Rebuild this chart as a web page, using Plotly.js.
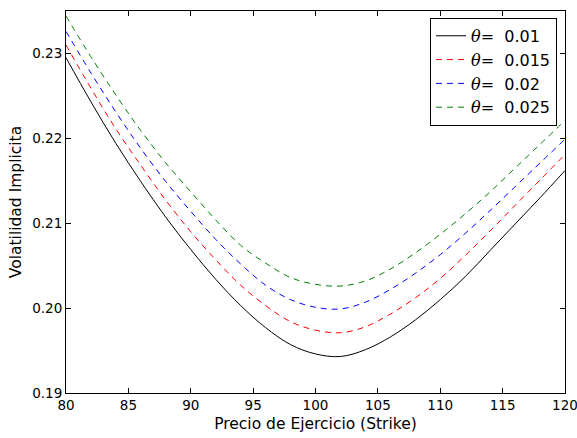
<!DOCTYPE html>
<html>
<head>
<meta charset="utf-8">
<script src="https://cdn.plot.ly/plotly-3.0.1.min.js"></script>
<style>html,body{margin:0;padding:0;background:#fff;}#chart{width:577px;height:438px;}</style>
</head>
<body>
<div id="chart"></div>
<script>
const strike = [80,82,84,86,88,90,92,94,96,98,100,102,104,106,108,110,112,114,116,118,120];
const volTheta001  = [0.2295,0.2243,0.2194,0.2149,0.2107,0.2069,0.2034,0.2003,0.1977,0.1957,0.1946,0.1943,0.1951,0.1966,0.1986,0.2010,0.2037,0.2068,0.2099,0.2130,0.2162];
const volTheta0015 = [0.2310,0.2259,0.2211,0.2168,0.2127,0.2090,0.2057,0.2027,0.2003,0.1984,0.1974,0.1971,0.1978,0.1993,0.2012,0.2035,0.2062,0.2091,0.2121,0.2151,0.2181];
const volTheta002  = [0.2326,0.2277,0.2231,0.2188,0.2149,0.2114,0.2081,0.2052,0.2027,0.2010,0.2001,0.1999,0.2007,0.2022,0.2041,0.2063,0.2088,0.2115,0.2143,0.2171,0.2199];
const volTheta0025 = [0.2344,0.2296,0.2251,0.2209,0.2171,0.2137,0.2104,0.2074,0.2053,0.2036,0.2028,0.2026,0.2032,0.2046,0.2065,0.2087,0.2111,0.2137,0.2165,0.2193,0.2221];
const thetaLabels = ["0.01","0.015","0.02","0.025"];
const colors = ["#000000","#ff0000","#0000ff","#008000"];
const dashes = ["solid","6px,5px","6px,5px","6px,5px"];
const series = [volTheta001, volTheta0015, volTheta002, volTheta0025];

const traces = series.map((ys, i) => ({
  x: strike, y: ys, type: 'scatter', mode: 'lines',
  name: '<span style="font-family:\'DejaVu Serif\'"><i>θ</i>=</span>\u00a0 ' + thetaLabels[i],
  line: {color: colors[i], width: 1, dash: dashes[i], shape: 'spline', smoothing: 1}
}));

const axisCommon = {
  showgrid: false, zeroline: false, showline: true, linecolor: '#000', linewidth: 1,
  mirror: 'allticks', ticks: 'inside', ticklen: 5, tickcolor: '#000', tickwidth: 1,
  ticklabeloverflow: 'allow',
  tickfont: {family: 'DejaVu Sans', size: 13.5, color: '#000'}
};

const layout = {
  width: 577, height: 438,
  margin: {l: 66, r: 12, t: 11, b: 45},
  paper_bgcolor: '#fff', plot_bgcolor: '#fff',
  showlegend: true,
  xaxis: Object.assign({}, axisCommon, {
    range: [80, 120], tickvals: [80,85,90,95,100,105,110,115,120],
    title: {text: 'Precio de Ejercicio (Strike)', font: {family: 'DejaVu Sans', size: 15.5, color: '#000'}, standoff: 5}
  }),
  yaxis: Object.assign({}, axisCommon, {
    range: [0.19, 0.235], tickvals: [0.19,0.20,0.21,0.22,0.23], tickformat: '.2f',
    title: {text: 'Volatilidad Implicita', font: {family: 'DejaVu Sans', size: 15.5, color: '#000'}, standoff: 6}
  }),
  legend: {
    x: 0.984, y: 0.982, xanchor: 'right', yanchor: 'top',
    bgcolor: '#fff', bordercolor: '#000', borderwidth: 1,
    font: {family: 'DejaVu Sans', size: 16, color: '#000'},
    tracegroupgap: 0, itemwidth: 30
  }
};

Plotly.newPlot('chart', traces, layout, {displayModeBar: false, staticPlot: true});
</script>
</body>
</html>
